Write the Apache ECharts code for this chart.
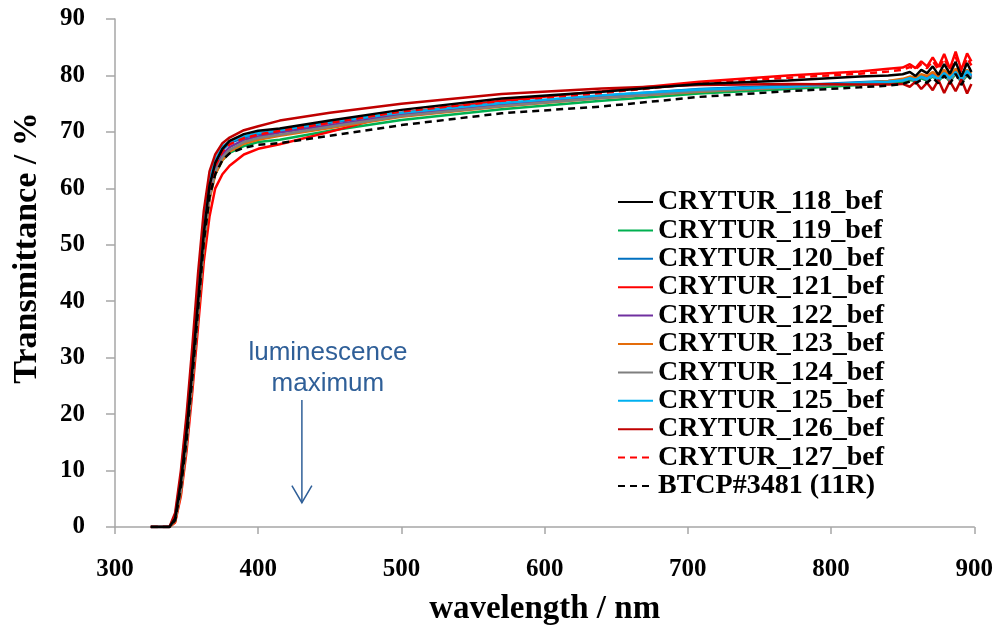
<!DOCTYPE html>
<html lang="en">

<head>
    <meta charset="UTF-8">
    <title>Transmittance spectra</title>
    <script src="https://cdn.jsdelivr.net/npm/echarts@6.0.0/dist/echarts.min.js"></script>
    <style>
        body { margin: 0; background: #fff; }
    </style>
</head>

<body>
    <div id="main" style="width: 996px; height: 633px;"></div>

    <script type="text/javascript">
        // wavelength grid (nm) shared by every curve
        const wavelengths = [325, 338, 342, 346, 350, 354, 358, 362, 366, 370, 375, 380, 390, 400, 415, 450, 500, 570, 640, 708, 770, 820, 840,
            850, 855, 859, 863, 867, 871, 875, 879, 883, 887, 891, 895, 898];

        // transmittance (%)
        const crytur118 = [0, 0, 1.5, 8, 17, 28, 40, 52, 60.5, 64.5, 67, 68.4, 69.6, 70.2, 70.6, 72, 73.9, 75.9, 77.1, 78.5, 79.1, 79.8, 80.0,
            80.2, 80.6, 79.9, 81.0, 80.4, 81.6, 80.1, 82.0, 80.3, 82.4, 79.8, 82.2, 80.6];
        const crytur119 = [0, 0, 1, 6.5, 15, 26, 38, 50, 58.5, 62.5, 65, 66.3, 67.5, 68.2, 68.6, 70.2, 72.1, 74, 75.5, 76.8, 77.6, 78.3, 78.6,
            78.9, 79.2, 79.0, 79.5, 79.1, 79.8, 79.0, 80.1, 78.9, 80.3, 78.8, 80.0, 79.4];
        const crytur120 = [0, 0, 1.5, 7.5, 16.5, 27.5, 39.5, 51.5, 60, 64.5, 66.8, 68, 69, 69.6, 70.2, 71.6, 73.3, 75, 76.4, 77.6, 78.2, 78.8, 79,
            79.2, 79.6, 79.0, 79.9, 79.3, 80.3, 79.1, 80.6, 79.0, 80.9, 78.8, 80.5, 79.6];
        const crytur121 = [0, 0, 0.8, 5.5, 13.5, 24, 35.5, 47, 55, 60, 62.5, 64, 66, 67, 67.8, 70, 73.4, 75.5, 77.2, 78.9, 80, 80.7, 81.2,
            81.4, 82.0, 81.3, 82.5, 81.6, 83.2, 81.5, 83.8, 81.2, 84.2, 81.0, 83.9, 82.5];
        const crytur122 = [0, 0, 1.5, 7, 16, 27, 39, 51, 59.5, 63.5, 66, 67.3, 68.6, 69.2, 69.9, 71.2, 73, 74.8, 76.2, 77.3, 78, 78.6, 78.9,
            79.2, 79.5, 79.3, 79.9, 79.5, 80.2, 79.4, 80.5, 79.3, 80.7, 79.1, 80.4, 79.8];
        const crytur123 = [0, 0, 1, 6, 14.5, 25.5, 37.5, 49.5, 58, 62.5, 65, 66.5, 67.9, 68.6, 69.3, 70.7, 72.7, 74.5, 76, 77.1, 77.9, 78.6, 79,
            79.4, 79.8, 79.6, 80.2, 79.9, 80.6, 79.8, 81.0, 79.9, 81.2, 79.7, 81.0, 80.3];
        const crytur124 = [0, 0, 1.2, 6.5, 15, 26, 38, 50, 58.5, 63, 65.5, 66.8, 68.2, 68.9, 69.5, 70.9, 72.8, 74.6, 76, 77.2, 77.9, 78.6, 78.9,
            79.1, 79.4, 79.2, 79.7, 79.3, 80.0, 79.2, 80.3, 79.1, 80.5, 78.9, 80.2, 79.6];
        const crytur125 = [0, 0, 2, 9, 19, 30.5, 43, 54.5, 61.5, 65, 67.4, 68.3, 69.2, 69.8, 70.3, 71.8, 73.4, 75.1, 76.5, 77.5, 78, 78.7, 78.9,
            79.1, 79.5, 79.2, 79.8, 79.4, 80.0, 79.3, 80.4, 79.5, 80.6, 79.2, 80.8, 80.0];
        const crytur126 = [0, 0, 2.5, 10, 20, 32, 45, 56, 63, 66, 68, 69, 70.3, 71, 72, 73.4, 75, 76.7, 77.7, 78.3, 78.5, 78.4, 78.4,
            78.5, 78.0, 78.9, 77.6, 78.7, 77.4, 79.2, 76.9, 79.0, 77.2, 79.3, 76.8, 78.5];
        const crytur127 = [0, 0, 1.5, 7.5, 16.5, 27.5, 39.5, 51.5, 59.5, 64, 66.5, 67.8, 68.9, 69.5, 70.2, 71.6, 73.6, 75.5, 76.9, 78.6, 79.6, 80.3, 80.7,
            81.0, 81.5, 81.1, 82.0, 81.3, 82.6, 81.0, 83.0, 80.9, 83.3, 80.6, 83.1, 81.8];
        const btcp3481 = [0, 0, 1.2, 7, 15.5, 26.5, 38.5, 50.5, 58.5, 62.5, 65, 66.2, 67.2, 67.7, 68, 69.3, 71.2, 73.3, 74.5, 76.2, 77.2, 77.9, 78.2,
            78.5, 78.9, 78.6, 79.2, 78.7, 79.6, 78.6, 80.0, 78.5, 80.3, 78.3, 80.1, 79.2];

        const seriesNames = ['CRYTUR_118_bef', 'CRYTUR_119_bef', 'CRYTUR_120_bef', 'CRYTUR_121_bef', 'CRYTUR_122_bef', 'CRYTUR_123_bef',
            'CRYTUR_124_bef', 'CRYTUR_125_bef', 'CRYTUR_126_bef', 'CRYTUR_127_bef', 'BTCP#3481 (11R)'];
        const seriesValues = [crytur118, crytur119, crytur120, crytur121, crytur122, crytur123,
            crytur124, crytur125, crytur126, crytur127, btcp3481];
        const seriesColors = ['#000000', '#00B050', '#0070C0', '#FF0000', '#7030A0', '#E46C0A',
            '#7F7F7F', '#00B0F0', '#C00000', '#FF0000', '#000000'];
        const seriesDashed = [false, false, false, false, false, false, false, false, false, true, true];

        const xTicks = [300, 400, 500, 600, 700, 800, 900];
        const yTicks = [0, 10, 20, 30, 40, 50, 60, 70, 80, 90];

        // annotation: arrow at the luminescence maximum
        const lumWavelength = 430.5;
        const arrowTop = 22.5;
        const arrowBottom = 4.3;

        const serif = '"Liberation Serif", "Times New Roman", serif';
        const axisGrey = '#A6A6A6';
        const noteBlue = '#2F5F98';

        let myChart = echarts.init(document.getElementById('main'));

        // draw the black lines last so they sit on top, like the original
        const drawOrder = [1, 2, 3, 4, 5, 6, 7, 8, 9, 0, 10];

        let series = drawOrder.map(i => ({
            name: seriesNames[i],
            type: 'line',
            data: wavelengths.map((w, k) => [w, seriesValues[i][k]]),
            showSymbol: false,
            symbol: 'none',
            lineStyle: {
                color: seriesColors[i],
                width: 2.5,
                type: seriesDashed[i] ? [7, 5] : 'solid'
            },
            itemStyle: { color: seriesColors[i] }
        }));

        let options = {
            animation: false,
            grid: {
                left: 115,
                right: 21,
                top: 19,
                bottom: 106
            },
            legend: {
                data: seriesNames,
                orient: 'vertical',
                left: 617,
                top: 188,
                padding: 0,
                itemWidth: 35,
                itemHeight: 14,
                itemGap: 0.4,
                itemStyle: { opacity: 0 },   // line only, no marker
                textStyle: {
                    fontFamily: serif,
                    fontWeight: 'bold',
                    fontSize: 28,
                    lineHeight: 28,
                    color: '#000'
                }
            },
            xAxis: {
                type: 'value',
                min: xTicks[0],
                max: xTicks[xTicks.length - 1],
                interval: 100,
                name: 'wavelength / nm',
                nameLocation: 'middle',
                nameGap: 66,
                nameTextStyle: {
                    fontFamily: serif,
                    fontWeight: 'bold',
                    fontSize: 33,
                    color: '#000'
                },
                splitLine: { show: false },
                axisLine: { lineStyle: { color: axisGrey, width: 1.5 } },
                axisTick: { length: 7, lineStyle: { color: axisGrey, width: 1.5 } },
                axisLabel: {
                    margin: 30,
                    fontFamily: serif,
                    fontWeight: 'bold',
                    fontSize: 25,
                    color: '#000'
                }
            },
            yAxis: {
                type: 'value',
                min: yTicks[0],
                max: yTicks[yTicks.length - 1],
                interval: 10,
                name: 'Transmittance / %',
                nameLocation: 'middle',
                nameGap: 71,
                nameTextStyle: {
                    fontFamily: serif,
                    fontWeight: 'bold',
                    fontSize: 34,
                    color: '#000',
                    padding: [0, 0, 0, 50]
                },
                splitLine: { show: false },
                axisLine: { show: true, lineStyle: { color: axisGrey, width: 1.5 } },
                axisTick: { show: true, length: 9, lineStyle: { color: axisGrey, width: 1.5 } },
                axisLabel: {
                    margin: 30,
                    fontFamily: serif,
                    fontWeight: 'bold',
                    fontSize: 25,
                    color: '#000'
                }
            },
            series: series
        };

        myChart.setOption(options);

        // arrow + label placed through the chart's own scales
        const arrowStart = myChart.convertToPixel({ gridIndex: 0 }, [lumWavelength, arrowTop]);
        const arrowEnd = myChart.convertToPixel({ gridIndex: 0 }, [lumWavelength, arrowBottom]);
        const ax = arrowStart[0];

        myChart.setOption({
            graphic: [
                {
                    type: 'text',
                    x: ax + 26,
                    y: arrowStart[1] - 32,
                    style: {
                        text: 'luminescence\nmaximum',
                        align: 'center',
                        verticalAlign: 'middle',
                        fontFamily: '"Liberation Sans", Arial, sans-serif',
                        fontSize: 26,
                        lineHeight: 31,
                        fill: noteBlue
                    }
                },
                {
                    type: 'line',
                    shape: { x1: ax, y1: arrowStart[1], x2: ax, y2: arrowEnd[1] },
                    style: { stroke: noteBlue, lineWidth: 1.5 }
                },
                {
                    type: 'polyline',
                    shape: { points: [[ax - 10, arrowEnd[1] - 17], [ax, arrowEnd[1]], [ax + 10, arrowEnd[1] - 17]] },
                    style: { stroke: noteBlue, lineWidth: 1.5, fill: null }
                }
            ]
        });

        window.addEventListener('resize', () => {
            myChart.resize();
        });
    </script>
</body>

</html>
